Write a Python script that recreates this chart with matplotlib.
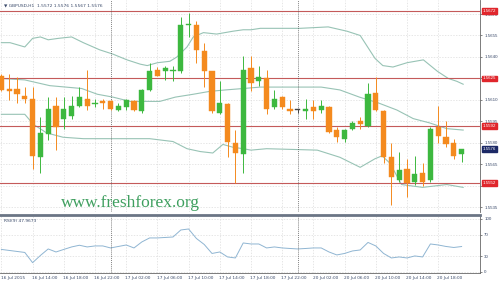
import numpy as np
import matplotlib
matplotlib.use("Agg")
import matplotlib.pyplot as plt
from matplotlib.transforms import blended_transform_factory

# GBPUSD H1 bars, 16 Jul 10:00 .. 20 Jul 21:00
opens = [1.5627, 1.5618, 1.5618, 1.5613, 1.5611, 1.5570, 1.5586, 1.5606, 1.5597, 1.5599,
         1.5606, 1.5611, 1.5607, 1.5609, 1.5609, 1.5603, 1.5605, 1.5609, 1.5602, 1.5617,
         1.5631, 1.5630, 1.5630, 1.5630, 1.5662, 1.5662, 1.5644, 1.5630, 1.5601, 1.5607,
         1.5580, 1.5572, 1.5632, 1.5623, 1.5625, 1.5605, 1.5612, 1.5604, 1.5603, 1.5602,
         1.5605, 1.5603, 1.5605, 1.5589, 1.5583, 1.5590, 1.5595, 1.5592, 1.5615, 1.5602,
         1.5570, 1.5554, 1.5562, 1.5553, 1.5559, 1.5554, 1.5591, 1.5584, 1.5580, 1.5572]
highs = [1.5628, 1.5628, 1.5626, 1.5619, 1.5619, 1.5598, 1.5612, 1.5612, 1.5612, 1.5613,
         1.5619, 1.5631, 1.5611, 1.5611, 1.5610, 1.5608, 1.5611, 1.5610, 1.5618, 1.5636,
         1.5633, 1.5634, 1.5634, 1.5668, 1.5671, 1.5665, 1.5650, 1.5630, 1.5623, 1.5608,
         1.5589, 1.5641, 1.5641, 1.5634, 1.5631, 1.5617, 1.5613, 1.5610, 1.5604, 1.5611,
         1.5610, 1.5610, 1.5606, 1.5591, 1.5590, 1.5595, 1.5598, 1.5622, 1.5626, 1.5603,
         1.5580, 1.5574, 1.5569, 1.5571, 1.5566, 1.5591, 1.5606, 1.5595, 1.5583, 1.5576]
lows = [1.5616, 1.5610, 1.5608, 1.5608, 1.5562, 1.5559, 1.5582, 1.5575, 1.5590, 1.5597,
        1.5605, 1.5603, 1.5605, 1.5604, 1.5603, 1.5602, 1.5603, 1.5602, 1.5601, 1.5616,
        1.5627, 1.5624, 1.5623, 1.5629, 1.5654, 1.5636, 1.5619, 1.5601, 1.5600, 1.5570,
        1.5552, 1.5559, 1.5616, 1.5620, 1.5600, 1.5604, 1.5604, 1.5600, 1.5601, 1.5597,
        1.5597, 1.5601, 1.5587, 1.5581, 1.5581, 1.5589, 1.5590, 1.5591, 1.5602, 1.5566,
        1.5537, 1.5553, 1.5542, 1.5551, 1.5550, 1.5553, 1.5580, 1.5577, 1.5569, 1.5567]
closes = [1.5617, 1.5616, 1.5614, 1.5611, 1.5571, 1.5587, 1.5604, 1.5591, 1.5604, 1.5606,
          1.5612, 1.5606, 1.5608, 1.5608, 1.5604, 1.5606, 1.5610, 1.5603, 1.5617, 1.5630,
          1.5627, 1.5632, 1.5631, 1.5662, 1.5663, 1.5645, 1.5630, 1.5602, 1.5608, 1.5581,
          1.5573, 1.5631, 1.5622, 1.5626, 1.5604, 1.5611, 1.5605, 1.5602, 1.5603, 1.5604,
          1.5602, 1.5606, 1.5588, 1.5584, 1.5589, 1.5594, 1.5593, 1.5614, 1.5603, 1.5570,
          1.5556, 1.5561, 1.5552, 1.5558, 1.5553, 1.5590, 1.5585, 1.5579, 1.5571, 1.5576]

# Bollinger bands (read at a few bar positions)
bb_up_x = [0, 1.1, 3, 4, 5, 6, 7.3, 9, 10.5, 12.6, 14.3, 16.1, 17.8, 18.7, 20, 21.6, 22.5, 23.8,
           24.6, 25.9, 27.6, 29.7, 31, 32, 33.2, 38.3, 41.9, 44.3, 46, 47.9, 48.9, 50.2, 52,
           54.1, 55.9, 57.3, 58.4, 59.2]
bb_up_y = [1.5650, 1.5650, 1.5647, 1.5653, 1.5654, 1.5652, 1.5653, 1.5654, 1.5650, 1.5645,
           1.5642, 1.5638, 1.5635, 1.5634, 1.5636, 1.5637, 1.5640, 1.5647, 1.5654, 1.5657,
           1.5656, 1.5658, 1.5659, 1.5659, 1.5660, 1.5660, 1.5661, 1.5658, 1.5655, 1.5639,
           1.5634, 1.5633, 1.5636, 1.5638, 1.5630, 1.5625, 1.5623, 1.5621]
bb_mid_x = [0, 3, 6.2, 10.3, 12.3, 14.3, 16.5, 17.8, 20.3, 22.3, 24.6, 26.7, 28.7, 31, 33.2,
            37.1, 41, 43.4, 45.9, 48.3, 50.7, 52.8, 54.9, 57.1, 59.2]
bb_mid_y = [1.5625, 1.5624, 1.5620, 1.5618, 1.5614, 1.5612, 1.5609, 1.5609, 1.5609, 1.5612,
            1.5614, 1.5616, 1.5617, 1.5618, 1.5619, 1.5619, 1.5619, 1.5617, 1.5612, 1.5608,
            1.5603, 1.5597, 1.5594, 1.5590, 1.5589]
bb_lo_x = [0, 3, 4.1, 5.8, 7.9, 10.5, 14.8, 19, 22, 23.8, 25.5, 27.1, 28.4, 29.7, 31, 32,
           34, 40.5, 43.4, 46, 47.9, 48.8, 49.8, 51.3, 54, 57.1, 59.2]
bb_lo_y = [1.5600, 1.5600, 1.5593, 1.5587, 1.5584, 1.5583, 1.5583, 1.5583, 1.5581, 1.5576,
           1.5574, 1.5573, 1.5579, 1.5577, 1.5576, 1.5575, 1.5576, 1.5575, 1.5570, 1.5563,
           1.5569, 1.5571, 1.5566, 1.5551, 1.5549, 1.5551, 1.5549]

rsi = [42.5, 40.6, 38.7, 36.8, 17.5, 31.1, 43.4, 37.7, 42.5, 47.2,
       50.4, 47.2, 49.1, 49.1, 45.3, 48.1, 50.9, 45.3, 56.6, 64.2,
       64.2, 65.1, 66.0, 79.2, 81.1, 63.2, 51.9, 34.9, 37.7, 28.3,
       26.4, 54.7, 52.8, 52.8, 45.3, 47.2, 45.3, 44.3, 43.4, 44.3,
       45.3, 45.3, 37.7, 32.1, 34.9, 39.6, 41.5, 55.7, 49.1, 34.9,
       26.4, 28.3, 26.4, 30.2, 28.3, 52.8, 50.9, 48.1, 46.2, 47.97]

levels = [1.5672, 1.5625, 1.5592, 1.5552]
price_ticks = [1.5670, 1.5655, 1.5640, 1.5625, 1.5610, 1.5595, 1.5580, 1.5565, 1.5550, 1.5535]
time_labels = ["16 Jul 2015", "16 Jul 14:00", "16 Jul 18:00", "16 Jul 22:00", "17 Jul 02:00",
               "17 Jul 06:00", "17 Jul 10:00", "17 Jul 14:00", "17 Jul 18:00", "17 Jul 22:00",
               "20 Jul 02:00", "20 Jul 06:00", "20 Jul 10:00", "20 Jul 14:00", "20 Jul 18:00"]
label_bars = [0, 4, 8, 12, 16, 20, 24, 28, 32, 36, 40, 44, 48, 52, 56]
separators = [14, 38]

UP = "#3db83f"
DN = "#f48a1e"
BAND = "#98c3b5"
GRIDC = "#dcdcdc"
LVL = "#c45a5a"
TXT = "#3a4a6a"
SMALL = "Liberation Sans"

opens = np.array(opens); closes = np.array(closes)
highs = np.array(highs); lows = np.array(lows)
n = len(opens)
idx = np.arange(n)

fig = plt.figure(figsize=(5, 2.85), dpi=100)
ax = fig.add_axes([0.0, 1 - 212 / 285, 480 / 500, 212 / 285])
ax2 = fig.add_axes([0.0, 1 - 273 / 285, 480 / 500, 58 / 285])

xlim = (-1.4 / 7.8, (480 - 1.4) / 7.8)
for a in (ax, ax2):
    a.set_xlim(*xlim)
    a.set_xticks(label_bars)
    a.set_xticklabels([])
    a.tick_params(axis="x", length=0)
    a.grid(True, color=GRIDC, linestyle=(0, (2, 2)), linewidth=0.5)
    a.set_axisbelow(True)
    for s in a.spines.values():
        s.set_color("#666666")
        s.set_linewidth(0.6)
    a.spines["top"].set_visible(False)
    a.spines["left"].set_visible(False)
    a.yaxis.tick_right()
    a.tick_params(axis="y", length=1.5, width=0.5, colors="#555555", labelsize=3.2, pad=1.5)
ax.spines["bottom"].set_visible(False)
ax2.spines["top"].set_visible(True)
ax2.spines["top"].set_linewidth(2)
ax2.spines["top"].set_color("#6b7585")

ax.set_ylim(1.5670 - 198 / 14330, 1.5670 + 14 / 14330)
ax.set_yticks(price_ticks)
ax.set_yticklabels(["%.4f" % p for p in price_ticks], color=TXT, family=SMALL)

# bands
ax.plot(bb_up_x, bb_up_y, color=BAND, lw=0.8)
ax.plot(bb_mid_x, bb_mid_y, color=BAND, lw=0.8)
ax.plot(bb_lo_x, bb_lo_y, color=BAND, lw=0.8)

# candles
cols = [UP if c > o else (DN if c < o else "#444444") for o, c in zip(opens, closes)]
ax.vlines(idx, lows, highs, colors=cols, lw=0.7, zorder=3)
body = np.maximum(np.abs(closes - opens), 0.00004)
ax.bar(idx, body, bottom=np.minimum(opens, closes), width=0.66, color=cols,
       edgecolor=cols, linewidth=0.3, zorder=4)

tr = blended_transform_factory(ax.transAxes, ax.transData)
for lv in levels:
    ax.axhline(lv, color=LVL, lw=0.8, zorder=2)
    ax.text(1.006, lv, "%.4f" % lv, transform=tr, fontsize=3.2, color="white", family=SMALL,
            va="center", ha="left", clip_on=False, zorder=6,
            bbox=dict(boxstyle="square,pad=0.2", fc="#e0262c", ec="#e0262c"))
ax.text(1.006, closes[-1], "%.4f" % closes[-1], transform=tr, fontsize=3.2, color="white",
        family=SMALL, va="center", ha="left", clip_on=False, zorder=6,
        bbox=dict(boxstyle="square,pad=0.2", fc="#1c2966", ec="#1c2966"))

ax.text(0.008, 0.985, "\u25bc GBPUSD,H1  %.4f %.4f %.4f %.4f" % (opens[-1], highs[-1], lows[-1], closes[-1]),
        transform=ax.transAxes, fontsize=3.2, color=TXT, va="top", ha="left")

# RSI
ax2.plot(idx, rsi, color="#8fb5d2", lw=0.7)
ax2.set_ylim(-2, 107.5)
ax2.set_yticks([0, 30, 70, 100])
ax2.set_yticklabels(["0", "30", "70", "100"], color=TXT, family=SMALL)
ax2.text(0.008, 0.93, "RSI(9) %.4f" % 47.9673, transform=ax2.transAxes, fontsize=3.2,
         color=TXT, va="top", ha="left")

for s in separators:
    ax.axvline(s, color="#555555", lw=0.5, linestyle=(0, (1.5, 1.5)), zorder=2)
    ax2.axvline(s, color="#555555", lw=0.5, linestyle=(0, (1.5, 1.5)), zorder=2)

for b, lab in zip(label_bars, time_labels):
    ax2.text(b - 0.1, -0.06, lab, transform=blended_transform_factory(ax2.transData, ax2.transAxes),
             fontsize=3.1, color=TXT, va="top", ha="left")

fig.text(130 / 500, 1 - 203 / 285, "www.freshforex.org", family="Liberation Serif",
         fontsize=12.5, color="#3f9f5f", ha="center", va="center")

fig.savefig("out.png", dpi=100)
